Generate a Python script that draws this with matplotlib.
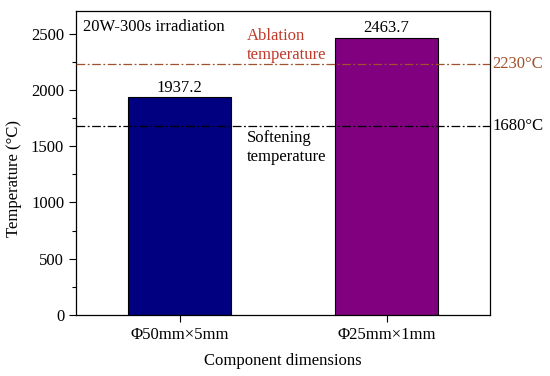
import matplotlib

matplotlib.use("Agg")
import matplotlib.pyplot as plt
from matplotlib.ticker import MultipleLocator

plt.rcParams["font.family"] = ["Liberation Serif", "DejaVu Serif"]

# data
categories = ["Φ50mm×5mm", "Φ25mm×1mm"]
temps = [1937.2, 2463.7]
bar_colors = ["#000080", "#800080"]
ablation_temp = 2230
softening_temp = 1680

FS = 12
RED = "#c0392b"
BROWN = "#a0522d"

fig = plt.figure(figsize=(5.5, 3.76), dpi=100)
ax = fig.add_axes([76 / 550, 61 / 376, 414 / 550, 304 / 376])

x = list(range(len(categories)))
ax.bar(x, temps, width=0.5, color=bar_colors, edgecolor="black",
       linewidth=0.8, zorder=2)
for xi, t in zip(x, temps):
    ax.text(xi, t + 12, f"{t:.1f}", ha="center", va="bottom", fontsize=FS)

ax.set_xlim(-0.5, 1.5)
ax.set_ylim(0, 2700)
ax.set_xticks(x)
ax.set_xticklabels(categories, fontsize=FS)
ax.yaxis.set_major_locator(MultipleLocator(500))
ax.yaxis.set_minor_locator(MultipleLocator(250))
ax.tick_params(axis="both", direction="out", labelsize=FS)
ax.tick_params(axis="y", which="major", length=5, width=0.8)
ax.tick_params(axis="y", which="minor", length=3, width=0.8)
ax.tick_params(axis="x", which="major", length=5, width=0.8)
for s in ax.spines.values():
    s.set_linewidth(0.9)

# threshold lines
ax.axhline(ablation_temp, color=BROWN, lw=0.9, ls=(0, (7, 2, 1.5, 2)),
           zorder=3)
ax.axhline(softening_temp, color="black", lw=0.9, ls=(0, (7, 2, 1.5, 2)),
           zorder=3)
ax.text(1.51, ablation_temp, f"{ablation_temp}°C", color=BROWN,
        fontsize=FS, ha="left", va="center", clip_on=False)
ax.text(1.51, softening_temp, f"{softening_temp}°C", color="black",
        fontsize=FS, ha="left", va="center", clip_on=False)

ax.text(0.325, 2394, "Ablation\ntemperature", color=RED, fontsize=FS,
        ha="left", va="center", linespacing=1.2)
ax.text(0.325, 1489, "Softening\ntemperature", color="black", fontsize=FS,
        ha="left", va="center", linespacing=1.2)
ax.text(0.017, 0.975, "20W-300s irradiation", transform=ax.transAxes,
        fontsize=FS, ha="left", va="top")

ax.set_xlabel("Component dimensions", fontsize=FS)
ax.set_ylabel("Temperature (°C)", fontsize=FS)
ax.xaxis.set_label_coords(0.5, -0.125)
ax.yaxis.set_label_coords(-0.13, 0.45)

fig.savefig("out.png", dpi=100)
